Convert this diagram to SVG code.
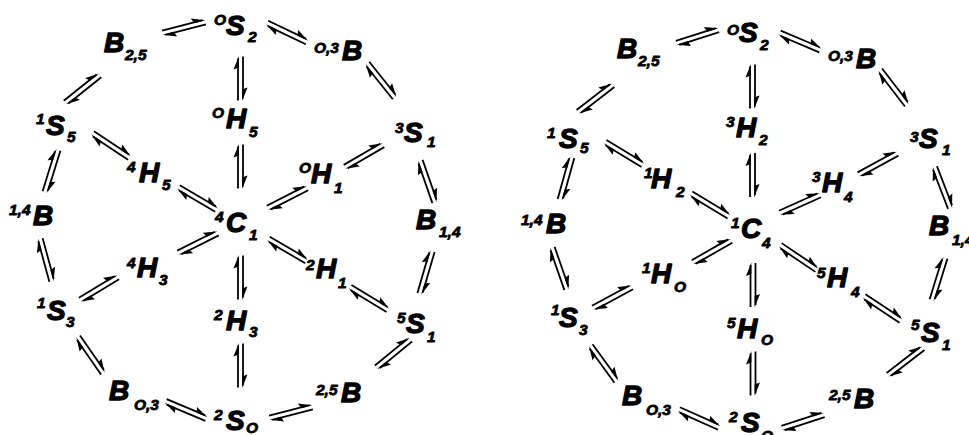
<svg xmlns="http://www.w3.org/2000/svg" xmlns:xlink="http://www.w3.org/1999/xlink" width="969" height="435" viewBox="0 0 969 435">
<style>
text{font-family:"Liberation Sans",Arial,sans-serif;font-weight:bold;font-style:italic;fill:#000;stroke:#000;stroke-linejoin:round}
.m{font-size:28px;stroke-width:1.3px}
.s{font-size:15.5px;stroke-width:0.8px}
#eq line{stroke:#000;stroke-width:1.8}
#eq polygon{fill:#000}
</style>
<defs>
<g id="eq">
<line x1="-22" y1="-2.5" x2="20" y2="-2.5"/>
<polygon points="22.5,-1.6 9,-7 11,-1.6"/>
<line x1="-20" y1="2.5" x2="22" y2="2.5"/>
<polygon points="-22.5,1.6 -9,7 -11,1.6"/>
</g>
</defs>
<rect width="969" height="435" fill="#fff"/>
<g id="connectors">
<use href="#eq" transform="translate(184 27.5) rotate(-14.7)"/>
<use href="#eq" transform="translate(287 32.5) rotate(25.4)"/>
<use href="#eq" transform="translate(240.5 78.5) rotate(90)"/>
<use href="#eq" transform="translate(82.5 89) rotate(-38.7)"/>
<use href="#eq" transform="translate(381 80.5) rotate(51.3)"/>
<use href="#eq" transform="translate(111 145.5) rotate(33.3)"/>
<use href="#eq" transform="translate(240.5 166.5) rotate(90)"/>
<use href="#eq" transform="translate(364 156) rotate(-30.1)"/>
<use href="#eq" transform="translate(197.5 198.5) rotate(30.5)"/>
<use href="#eq" transform="translate(287.5 198) rotate(-27.1)"/>
<use href="#eq" transform="translate(51.5 171) rotate(107.2)"/>
<use href="#eq" transform="translate(427.5 181.5) rotate(70.8)"/>
<use href="#eq" transform="translate(46 260) rotate(74.7)"/>
<use href="#eq" transform="translate(198 243) rotate(-26.6)"/>
<use href="#eq" transform="translate(240.5 277.5) rotate(90)"/>
<use href="#eq" transform="translate(287.5 250) rotate(30.3)"/>
<use href="#eq" transform="translate(426 272.5) rotate(106.3)"/>
<use href="#eq" transform="translate(99 288.5) rotate(-31.2)"/>
<use href="#eq" transform="translate(369 298.5) rotate(31.2)"/>
<use href="#eq" transform="translate(90.5 355) rotate(55.2)"/>
<use href="#eq" transform="translate(240.5 365.5) rotate(90)"/>
<use href="#eq" transform="translate(393.5 353.5) rotate(-39.3)"/>
<use href="#eq" transform="translate(186 410) rotate(22.8)"/>
<use href="#eq" transform="translate(291 412.5) rotate(-14.7)"/>

<use href="#eq" transform="translate(697.5 36.5) rotate(-17.6)"/>
<use href="#eq" transform="translate(800 41.5) rotate(23)"/>
<use href="#eq" transform="translate(752.5 86.5) rotate(90)"/>
<use href="#eq" transform="translate(595.5 98.5) rotate(-37.6)"/>
<use href="#eq" transform="translate(893.5 87.5) rotate(52.4)"/>
<use href="#eq" transform="translate(624 153.5) rotate(31.2)"/>
<use href="#eq" transform="translate(752.5 175) rotate(90)"/>
<use href="#eq" transform="translate(878 164) rotate(-28.8)"/>
<use href="#eq" transform="translate(710 205) rotate(31)"/>
<use href="#eq" transform="translate(800 204) rotate(-24.2)"/>
<use href="#eq" transform="translate(566 178.5) rotate(105.6)"/>
<use href="#eq" transform="translate(942.5 187.5) rotate(69)"/>
<use href="#eq" transform="translate(559.5 268.5) rotate(70.8)"/>
<use href="#eq" transform="translate(712 251.5) rotate(-29.9)"/>
<use href="#eq" transform="translate(753 285) rotate(90)"/>
<use href="#eq" transform="translate(798.5 257.5) rotate(34)"/>
<use href="#eq" transform="translate(938.5 279) rotate(107.2)"/>
<use href="#eq" transform="translate(612.5 297.5) rotate(-28.3)"/>
<use href="#eq" transform="translate(882.5 308.5) rotate(33.3)"/>
<use href="#eq" transform="translate(603.5 363.5) rotate(53.9)"/>
<use href="#eq" transform="translate(753 373.5) rotate(90)"/>
<use href="#eq" transform="translate(905.5 361.5) rotate(-37.6)"/>
<use href="#eq" transform="translate(699 418.5) rotate(24.1)"/>
<use href="#eq" transform="translate(803 421.5) rotate(-18)"/>
</g>

<!-- left wheel -->
<g id="L_B25"><text><tspan class="m" x="104" y="52">B</tspan><tspan class="s" x="125" y="60">2,5</tspan></text></g>
<g id="L_OS2"><text><tspan class="s" x="214" y="25">O</tspan><tspan class="m" x="226" y="35">S</tspan><tspan class="s" x="248" y="42">2</tspan></text></g>
<g id="L_O3B"><text><tspan class="s" x="314" y="53">O,3</tspan><tspan class="m" x="342" y="60">B</tspan></text></g>
<g id="L_1S5"><text><tspan class="s" x="36" y="124">1</tspan><tspan class="m" x="46" y="135">S</tspan><tspan class="s" x="67" y="142">5</tspan></text></g>
<g id="L_OH5"><text><tspan class="s" x="212" y="118">O</tspan><tspan class="m" x="226" y="128">H</tspan><tspan class="s" x="249" y="137">5</tspan></text></g>
<g id="L_3S1"><text><tspan class="s" x="395" y="133">3</tspan><tspan class="m" x="404" y="142">S</tspan><tspan class="s" x="427" y="147">1</tspan></text></g>
<g id="L_4H5"><text><tspan class="s" x="127" y="172">4</tspan><tspan class="m" x="139" y="182">H</tspan><tspan class="s" x="162" y="190">5</tspan></text></g>
<g id="L_OH1"><text><tspan class="s" x="299" y="173">O</tspan><tspan class="m" x="311" y="183">H</tspan><tspan class="s" x="334" y="193">1</tspan></text></g>
<g id="L_14B"><text><tspan class="s" x="9" y="215">1,4</tspan><tspan class="m" x="33" y="225">B</tspan></text></g>
<g id="L_4C1"><text><tspan class="s" x="215" y="222">4</tspan><tspan class="m" x="226" y="232">C</tspan><tspan class="s" x="249" y="240">1</tspan></text></g>
<g id="L_B14"><text><tspan class="m" x="416" y="229">B</tspan><tspan class="s" x="439" y="237">1,4</tspan></text></g>
<g id="L_4H3"><text><tspan class="s" x="127" y="268">4</tspan><tspan class="m" x="137" y="277">H</tspan><tspan class="s" x="159" y="285">3</tspan></text></g>
<g id="L_2H1"><text><tspan class="s" x="306" y="270">2</tspan><tspan class="m" x="316" y="278">H</tspan><tspan class="s" x="338" y="288">1</tspan></text></g>
<g id="L_1S3"><text><tspan class="s" x="37" y="308">1</tspan><tspan class="m" x="47" y="320">S</tspan><tspan class="s" x="66" y="327">3</tspan></text></g>
<g id="L_2H3"><text><tspan class="s" x="214" y="320">2</tspan><tspan class="m" x="226" y="330">H</tspan><tspan class="s" x="249" y="337">3</tspan></text></g>
<g id="L_5S1"><text><tspan class="s" x="397" y="323">5</tspan><tspan class="m" x="406" y="333">S</tspan><tspan class="s" x="427" y="342">1</tspan></text></g>
<g id="L_BO3"><text><tspan class="m" x="109" y="400">B</tspan><tspan class="s" x="134" y="410">O,3</tspan></text></g>
<g id="L_2SO"><text><tspan class="s" x="214" y="420">2</tspan><tspan class="m" x="226" y="430">S</tspan><tspan class="s" x="246" y="433">O</tspan></text></g>
<g id="L_25B"><text><tspan class="s" x="316" y="395">2,5</tspan><tspan class="m" x="341" y="402">B</tspan></text></g>

<!-- right wheel -->
<g id="R_B25"><text><tspan class="m" x="617" y="58">B</tspan><tspan class="s" x="638" y="66">2,5</tspan></text></g>
<g id="R_OS2"><text><tspan class="s" x="727" y="35">O</tspan><tspan class="m" x="739" y="42">S</tspan><tspan class="s" x="760" y="50">2</tspan></text></g>
<g id="R_O3B"><text><tspan class="s" x="828" y="61">O,3</tspan><tspan class="m" x="856" y="68">B</tspan></text></g>
<g id="R_1S5"><text><tspan class="s" x="547" y="138">1</tspan><tspan class="m" x="559" y="148">S</tspan><tspan class="s" x="580" y="153">5</tspan></text></g>
<g id="R_3H2"><text><tspan class="s" x="726" y="127">3</tspan><tspan class="m" x="736" y="137">H</tspan><tspan class="s" x="759" y="145">2</tspan></text></g>
<g id="R_3S1"><text><tspan class="s" x="910" y="142">3</tspan><tspan class="m" x="919" y="148">S</tspan><tspan class="s" x="942" y="155">1</tspan></text></g>
<g id="R_1H2"><text><tspan class="s" x="644" y="178">1</tspan><tspan class="m" x="651" y="188">H</tspan><tspan class="s" x="676" y="197">2</tspan></text></g>
<g id="R_3H4"><text><tspan class="s" x="812" y="182">3</tspan><tspan class="m" x="822" y="192">H</tspan><tspan class="s" x="844" y="202">4</tspan></text></g>
<g id="R_14B"><text><tspan class="s" x="521" y="225">1,4</tspan><tspan class="m" x="546" y="233">B</tspan></text></g>
<g id="R_1C4"><text><tspan class="s" x="731" y="228">1</tspan><tspan class="m" x="741" y="238">C</tspan><tspan class="s" x="762" y="248">4</tspan></text></g>
<g id="R_B14"><text><tspan class="m" x="929" y="235">B</tspan><tspan class="s" x="952" y="245">1,4</tspan></text></g>
<g id="R_1HO"><text><tspan class="s" x="642" y="273">1</tspan><tspan class="m" x="651" y="283">H</tspan><tspan class="s" x="674" y="292">O</tspan></text></g>
<g id="R_5H4"><text><tspan class="s" x="817" y="278">5</tspan><tspan class="m" x="827" y="287">H</tspan><tspan class="s" x="851" y="297">4</tspan></text></g>
<g id="R_1S3"><text><tspan class="s" x="551" y="315">1</tspan><tspan class="m" x="559" y="327">S</tspan><tspan class="s" x="579" y="335">3</tspan></text></g>
<g id="R_5HO"><text><tspan class="s" x="727" y="328">5</tspan><tspan class="m" x="737" y="338">H</tspan><tspan class="s" x="761" y="345">O</tspan></text></g>
<g id="R_5S1"><text><tspan class="s" x="911" y="330">5</tspan><tspan class="m" x="921" y="342">S</tspan><tspan class="s" x="942" y="350">1</tspan></text></g>
<g id="R_BO3"><text><tspan class="m" x="622" y="405">B</tspan><tspan class="s" x="646" y="415">O,3</tspan></text></g>
<g id="R_2SO"><text><tspan class="s" x="729" y="422">2</tspan><tspan class="m" x="741" y="432">S</tspan><tspan class="s" x="761" y="441">O</tspan></text></g>
<g id="R_25B"><text><tspan class="s" x="829" y="400">2,5</tspan><tspan class="m" x="854" y="408">B</tspan></text></g>
</svg>
